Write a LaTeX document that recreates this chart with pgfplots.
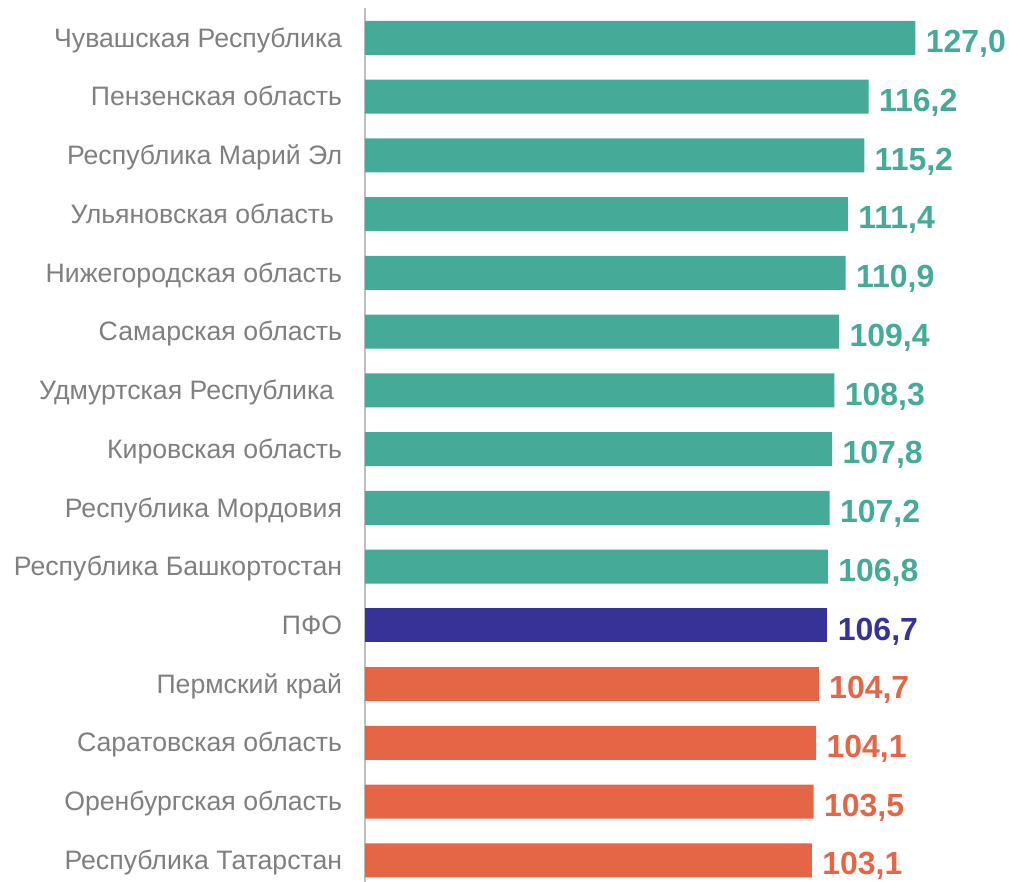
\documentclass[border=0pt]{standalone}
\usepackage{pgfplots}
\pgfplotsset{compat=1.18}
\usepackage{fontspec}
\setmainfont{Liberation Sans}
\definecolor{cteal}{HTML}{45AA97}
\definecolor{cnavy}{HTML}{373298}
\definecolor{corange}{HTML}{E46646}
\definecolor{clabel}{HTML}{7F7F7F}
\definecolor{caxis}{HTML}{BFBFBF}
\begin{document}
\begin{tikzpicture}
\begin{axis}[
  name=main,
  xbar, bar shift=0pt, bar width=17pt,
  scale only axis, width=317.5pt, height=437pt,
  xmin=0, xmax=146.5,
  y dir=reverse, ymin=-0.51, ymax=14.37,
  axis x line=none, axis y line*=left,
  axis line style={-, draw=caxis, line width=1pt},
  ytick={0,...,14},
  yticklabels={Чувашская Республика, Пензенская область, Республика Марий Эл, Ульяновская область\kern4pt, Нижегородская область, Самарская область, Удмуртская Республика\kern4pt, Кировская область, Республика Мордовия, Республика Башкортостан, ПФО, Пермский край, Саратовская область, Оренбургская область, Республика Татарстан},
  ytick style={draw=none},
  yticklabel style={font=\fontsize{13.33pt}{15pt}\selectfont, text=clabel, inner sep=0pt, anchor=base east, xshift=-7pt, yshift=-4.6pt},
  nodes near coords,
  nodes near coords style={font=\fontsize{16pt}{18pt}\selectfont\bfseries, anchor=west, inner sep=0pt, xshift=5pt, yshift=-3pt},
  /pgf/number format/.cd, fixed, fixed zerofill, precision=1, use comma, assume math mode=true,
  /pgfplots/.cd,
  clip=false,
]
\addplot[fill=cteal, draw=none, nodes near coords style={text=cteal}] coordinates {
 (127.0,0) (116.2,1) (115.2,2) (111.4,3) (110.9,4) (109.4,5) (108.3,6) (107.8,7) (107.2,8) (106.8,9)};
\addplot[fill=cnavy, draw=none, nodes near coords style={text=cnavy}] coordinates {(106.7,10)};
\addplot[fill=corange, draw=none, nodes near coords style={text=corange}] coordinates {
 (104.7,11) (104.1,12) (103.5,13) (103.1,14)};
\end{axis}
\pgfresetboundingbox
\path (main.south west) ++(-182.5pt,0pt) rectangle ++(504.5pt,441pt);
\end{tikzpicture}
\end{document}
